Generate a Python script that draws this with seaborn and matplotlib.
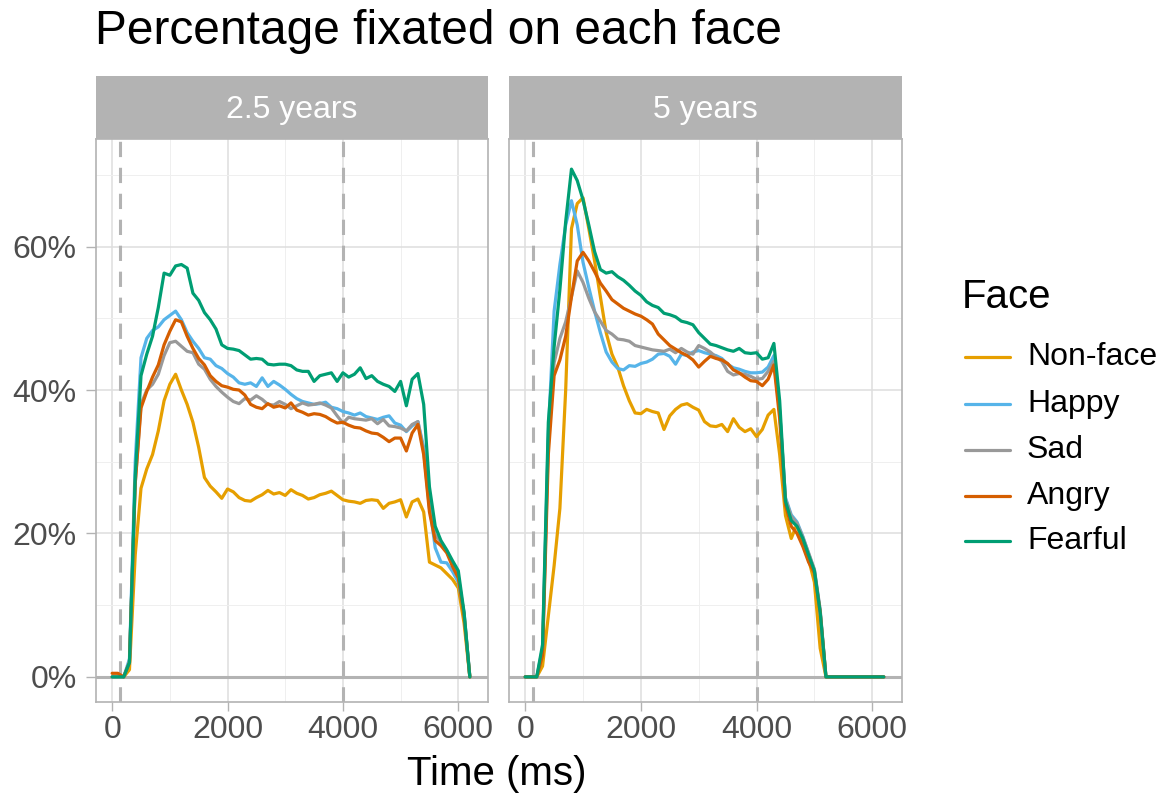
import numpy as np
import pandas as pd
import matplotlib
matplotlib.use('Agg')
import matplotlib.pyplot as plt
import seaborn as sns
from matplotlib.lines import Line2D
from matplotlib.ticker import FuncFormatter

# time bins (ms), every 100 ms
time_ms = list(range(0, 6201, 100))

faces = ['Non-face', 'Happy', 'Sad', 'Angry', 'Fearful']
colors = ['#E69F00', '#56B4E9', '#999999', '#D55E00', '#009E73']

# 2.5 years (percent fixated)
young_nonface = [0, 0, 0, 1, 17, 26.3, 29, 31, 34.3, 38.5, 40.8, 42.2, 40, 38, 35.5, 32, 27.8, 26.6, 25.8, 24.9,
                 26.2, 25.8, 25, 24.6, 24.5, 25, 25.4, 26, 25.5, 25.7, 25.3, 26.1, 25.6, 25.3, 24.8, 25, 25.4, 25.6,
                 25.9, 25.3, 24.7, 24.5, 24.4, 24.2, 24.6, 24.7, 24.6, 23.5, 24.2, 24.4, 24.7, 22.3, 24.4, 24.8, 23,
                 16, 15.6, 15.2, 14.4, 13.6, 12.4, 7.5, 0]
young_happy = [0, 0, 0, 2.5, 30, 44.5, 47.2, 48.3, 48.8, 49.8, 50.4, 51, 49.8, 48, 46.8, 45.8, 44.5, 44.3, 43.4, 43,
               42.3, 41.8, 41, 40.8, 41, 40.5, 41.7, 40.5, 41.2, 40.7, 40.1, 39.4, 38.8, 38.4, 38.2, 38, 38.1, 38.3,
               37.6, 37.4, 37, 36.8, 36.5, 36.8, 36.3, 36.1, 35.9, 36.2, 36.4, 35.4, 35.1, 34.2, 35, 35.6, 32,
               24, 18, 16, 15.9, 14.7, 13.2, 9, 0]
young_sad = [0, 0, 0, 2, 27, 38, 40, 40.8, 42.2, 44.8, 46.6, 46.8, 46.1, 45.4, 45.2, 43.6, 42.9, 41.5, 40.5, 39.7,
             39, 38.4, 38.1, 38.8, 38.6, 39.2, 38.7, 38, 37.9, 38.4, 38, 37.4, 37.8, 38.2, 37.9, 38, 38.2, 37.9,
             37.5, 36.4, 35.4, 36.2, 36, 35.9, 35.8, 36, 35.3, 35.9, 35, 34.9, 34.7, 34.3, 35.2, 35.6, 31.5,
             23.5, 19.8, 18.8, 17.5, 15.8, 14, 8.8, 0]
young_angry = [0.5, 0.5, 0, 2, 27, 37.5, 39.8, 41.8, 43.5, 46.3, 48.2, 49.8, 49.5, 47.5, 45.8, 44.4, 43.5, 42, 41.2,
               40.6, 40.4, 40.1, 40, 39.3, 38, 37.6, 37.4, 38.1, 37.6, 37.8, 37.5, 38.2, 37.2, 36.9, 36.5, 36.7,
               36.6, 36.3, 35.8, 35.4, 35.5, 35.1, 34.8, 34.7, 34.3, 34, 33.9, 33.4, 32.8, 33.3, 33.3, 31.5, 34,
               35.2, 31, 23, 19, 18.3, 17.3, 15.4, 13.8, 8.5, 0]
young_fearful = [0, 0, 0, 2, 28, 42, 45, 47.5, 51.5, 56.3, 56, 57.3, 57.5, 57, 53.5, 52.5, 50.8, 49.8, 48.5, 46.3,
                 45.8, 45.7, 45.5, 44.9, 44.3, 44.4, 44.3, 43.6, 43.5, 43.6, 43.6, 43.4, 42.8, 42.6, 42.6, 41.2,
                 42, 42.2, 42.4, 41.2, 42.4, 41.8, 42.2, 43.1, 41.6, 42, 41.2, 40.8, 40.5, 39.8, 41.2, 37.8, 41.5,
                 42.3, 38, 26.5, 21, 19, 17.7, 16.2, 14.8, 9, 0]

# 5 years
old_nonface = [0, 0, 0, 1.5, 8.5, 15.5, 23.5, 40, 62.5, 66, 66.8, 62.5, 58, 53, 48, 45, 43.2, 40.6, 38.5, 36.8,
               36.7, 37.3, 37, 36.8, 34.5, 36.4, 37.3, 37.9, 38.1, 37.6, 37.2, 35.6, 35, 34.9, 35.2, 34.2, 36,
               34.8, 34.2, 34.6, 33.5, 34.5, 36.5, 37.3, 31, 22.5, 19.3, 21.3, 18.4, 16.4, 13.2, 4, 0,
               0, 0, 0, 0, 0, 0, 0, 0, 0, 0]
old_happy = [0, 0, 0, 4, 34, 51, 57.5, 63, 66.4, 63, 57.8, 54.3, 51, 48, 45.3, 43.9, 43, 42.8, 43.4, 43.3, 43.7,
             43.9, 44.3, 45, 45.1, 44.7, 43.6, 45, 44.8, 45.3, 45.5, 45.2, 45, 44.8, 44.4, 43.6, 43.1, 42.9, 42.6,
             42.4, 42.4, 42.5, 43.2, 44.8, 37, 25, 22.6, 21.6, 19.6, 17.2, 14.9, 9.2, 0,
             0, 0, 0, 0, 0, 0, 0, 0, 0, 0]
old_sad = [0, 0, 0, 3.5, 33, 43.8, 47.2, 49.5, 53, 56.6, 55, 52.8, 50.9, 49.6, 48.3, 47.8, 47.1, 47, 46.8, 46.2, 46,
           45.8, 45.6, 45.5, 45.4, 45.7, 45.2, 45.8, 45.3, 45, 46.2, 45.8, 45.3, 44.6, 44, 42.6, 42.1, 42.3, 42.2,
           41.9, 41.5, 41.6, 42.6, 44, 37, 24.8, 22.4, 21.4, 19.5, 17.3, 15, 9.4, 0,
           0, 0, 0, 0, 0, 0, 0, 0, 0, 0]
old_angry = [0, 0, 0, 3, 31, 42, 44.2, 47.5, 53, 58, 59.2, 58, 56.5, 54.9, 53.8, 52.6, 52, 51.4, 51, 50.6, 50.3,
             49.8, 49.2, 47.8, 47, 46.2, 45.7, 45.2, 44.8, 44.2, 43.2, 44, 44.7, 44.4, 44.2, 43.7, 42.8, 42.4,
             41.8, 41.3, 41.2, 40.6, 41.5, 43.5, 36, 24, 21, 20, 18.2, 16, 14.5, 9, 0,
             0, 0, 0, 0, 0, 0, 0, 0, 0, 0]
old_fearful = [0, 0, 0, 4.5, 35.5, 46, 54, 63.5, 70.8, 69.2, 66.5, 63, 59.3, 56.8, 56.3, 56.5, 55.8, 55.3, 54.6,
               53.8, 53.2, 52.3, 51.8, 51.5, 50.7, 50.5, 50.2, 49.6, 49.4, 49.1, 48, 47.2, 46.4, 46.2, 45.9, 45.6,
               45.4, 45.8, 45.2, 45.1, 45.2, 44.3, 44.5, 46.5, 38.5, 24.5, 21.8, 21, 19.3, 17, 14.8, 9, 0,
               0, 0, 0, 0, 0, 0, 0, 0, 0, 0]

ages = ['2.5 years', '5 years']
series = {
    '2.5 years': [young_nonface, young_happy, young_sad, young_angry, young_fearful],
    '5 years': [old_nonface, old_happy, old_sad, old_angry, old_fearful],
}

rows = []
for age in ages:
    for face, vals in zip(faces, series[age]):
        for t, v in zip(time_ms, vals):
            rows.append((age, face, t, v))
df = pd.DataFrame(rows, columns=['age', 'face', 'time', 'pct'])

sns.set_theme(style='white')
plt.rcParams['font.family'] = ['Liberation Sans', 'DejaVu Sans']
plt.rcParams['text.color'] = 'black'

W, H = 1166, 800
fig = plt.figure(figsize=(W / 100, H / 100), dpi=100)

grey70 = '#B3B3B3'
grid_major = '#DEDEDE'
grid_minor = '#EFEFEF'
tick_col = '#4D4D4D'

panel_x = [(96, 488), (509, 902)]
panel_y = (139, 702)
strip_y = (76, 139)

pal = dict(zip(faces, colors))

for i, age in enumerate(ages):
    x0, x1 = panel_x[i]
    ax = fig.add_axes([x0 / W, 1 - panel_y[1] / H, (x1 - x0) / W, (panel_y[1] - panel_y[0]) / H])
    ax.set_xlim(-280, 6515)
    ax.set_ylim(-3.5, 75.0)
    ax.set_xticks([0, 2000, 4000, 6000])
    ax.set_xticks([1000, 3000, 5000], minor=True)
    ax.set_yticks([0, 20, 40, 60])
    ax.set_yticks([10, 30, 50, 70], minor=True)
    ax.grid(which='major', color=grid_major, lw=1.1)
    ax.grid(which='minor', color=grid_minor, lw=0.7)
    ax.set_axisbelow(True)

    ax.axhline(0, color=grey70, lw=2.2, zorder=1.5)
    for xv in [133, 4000]:
        ax.axvline(xv, color=grey70, lw=2.2, ls=(0, (5, 3.5)), zorder=1.5)

    sns.lineplot(data=df[df['age'] == age], x='time', y='pct', hue='face', hue_order=faces,
                 palette=pal, lw=2.3, ax=ax, legend=False, zorder=3)

    for s in ax.spines.values():
        s.set_color(grey70)
        s.set_linewidth(1.2)
    ax.tick_params(axis='both', which='major', width=1, color=grey70,
                   labelsize=23, labelcolor=tick_col, bottom=True, left=True)
    ax.tick_params(axis='x', which='major', length=6.5, pad=3)
    ax.tick_params(axis='y', which='major', length=7, pad=7)
    ax.tick_params(which='minor', length=0)
    ax.yaxis.set_major_formatter(FuncFormatter(lambda v, p: f'{v:.0f}%'))
    if i > 0:
        ax.tick_params(axis='y', labelleft=False, left=False)
    ax.set_xlabel('')
    ax.set_ylabel('')

    # facet strip
    sax = fig.add_axes([x0 / W, 1 - strip_y[1] / H, (x1 - x0) / W, (strip_y[1] - strip_y[0]) / H])
    sax.set_facecolor(grey70)
    sax.set_xticks([])
    sax.set_yticks([])
    for s in sax.spines.values():
        s.set_visible(False)
    sax.text(0.5, 0.46, age, ha='center', va='center', color='white', fontsize=23,
             transform=sax.transAxes)

fig.text(95 / W, 1 - 31 / H, 'Percentage fixated on each face', fontsize=34.5, ha='left', va='center')
fig.text(497 / W, 1 - 774 / H, 'Time (ms)', fontsize=29, ha='center', va='center')

# legend drawn at the guide position
fig.text(962 / W, 1 - 297 / H, 'Face', fontsize=29, ha='left', va='center')
row_y = [357, 404, 450, 496, 541]
for face, c, yy in zip(faces, colors, row_y):
    fig.add_artist(Line2D([965 / W, 1010 / W], [1 - yy / H, 1 - yy / H], color=c, lw=2.3,
                          transform=fig.transFigure))
    fig.text(1027 / W, 1 - yy / H, face, fontsize=23, ha='left', va='center')

fig.savefig('out.png', dpi=100)
